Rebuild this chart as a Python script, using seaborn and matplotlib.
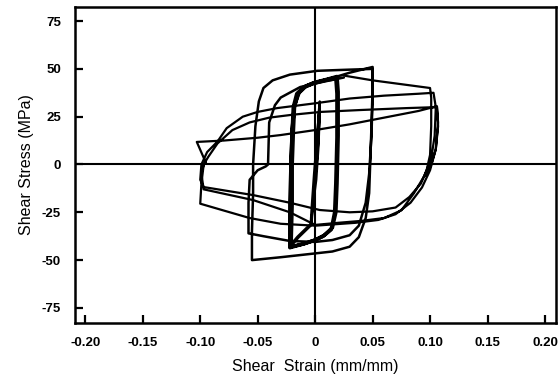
import numpy as np
import matplotlib
matplotlib.use("Agg")
import matplotlib.pyplot as plt
import seaborn as sns

# ---- data (strain mm/mm, stress MPa) ----
loopA_strain = [0.000, 0.002, 0.003, 0.004, 0.004, 0.003, 0.001, -0.002, -0.003, -0.004,
                -0.003, -0.001, 0.001, 0.003, 0.004, 0.004, 0.002, -0.001, -0.003, -0.003]
loopA_stress = [0, 15, 27, 33, 28, 10, -8, -22, -30, -32,
                -22, -5, 10, 25, 32, 25, 5, -15, -28, -31]

loopB_strain = [-0.003, -0.015, -0.022,
                -0.022, -0.021, -0.020, -0.018, -0.014, -0.008, 0.000, 0.010, 0.019,
                0.020, 0.020, 0.019, 0.018, 0.015, 0.008, 0.000, -0.010, -0.022,
                -0.021, -0.021, -0.020, -0.019, -0.016, -0.010, -0.002, 0.008, 0.018,
                0.019, 0.019, 0.018, 0.017, 0.014, 0.007, 0.000, -0.010, -0.021,
                -0.020, -0.020, -0.019, -0.018, -0.015, -0.009, -0.001, 0.009, 0.019]
loopB_stress = [-31, -38, -43,
                -20, 0, 18, 31, 37.5, 41, 43, 44.5, 46,
                38, 15, -10, -25, -33, -37, -39.5, -41.5, -43.5,
                -20, 0, 17, 30, 37, 40.5, 42.5, 44, 45.5,
                37, 14, -10, -25, -34, -37.5, -39.5, -41.5, -43,
                -20, 0, 17, 30, 37, 40.5, 42.5, 44, 45]

loopC_strain = [0.019, 0.030, 0.040, 0.050,
                0.050, 0.049, 0.048, 0.047, 0.044, 0.038, 0.030, 0.015, 0.000, -0.030, -0.055,
                -0.055, -0.054, -0.054, -0.052, -0.049, -0.045, -0.037, -0.022, 0.002, 0.025, 0.050,
                0.050, 0.049, 0.047, 0.044, 0.038, 0.030, 0.015, 0.000, -0.022, -0.045, -0.058,
                -0.058, -0.057, -0.050, -0.043, -0.041, -0.040, -0.035, -0.030, -0.013, 0.005, 0.025]
loopC_stress = [46, 48, 49.5, 51,
                40, 20, 2, -15, -28, -38, -43, -45.5, -46.5, -48.5, -50,
                -35, -15, 0, 20, 33, 40, 44, 47, 49, 49.5, 50,
                35, 15, -5, -20, -32, -37, -39.5, -40.5, -40, -37.5, -36,
                -20, -8, -3, -1, 0, 22, 31, 35, 40.5, 43, 45.5]

loopD_strain = [0.025, 0.050, 0.075, 0.100,
                0.101, 0.101, 0.100, 0.097, 0.092, 0.082, 0.070, 0.050, 0.030, 0.004, -0.022,
                -0.054, -0.097, -0.100, -0.099,
                -0.094, -0.085, -0.077, -0.063, -0.050, -0.033, 0.000, 0.030, 0.060, 0.090, 0.103,
                0.105, 0.104, 0.101, 0.095, 0.086, 0.075, 0.060, 0.040, 0.020, 0.000, -0.022,
                -0.054, -0.097, -0.099,
                -0.097, -0.093, -0.085, -0.072, -0.057, -0.040, -0.020, 0.005, 0.040, 0.080, 0.106,
                0.107, 0.105, 0.100, 0.093, 0.083, 0.070, 0.055, 0.035, 0.000, -0.030,
                -0.057, -0.080, -0.100, -0.099, -0.097, -0.095, -0.103,
                -0.080, -0.050, -0.030, 0.000, 0.030, 0.060, 0.090, 0.106,
                0.107, 0.105, 0.101, 0.096]
loopD_stress = [46.5, 44, 42, 40,
                35, 20, 5, -3, -10, -17, -22.5, -24.5, -25, -23.8, -20,
                -16, -11.8, -8, 0,
                6.5, 12, 19, 25, 27.5, 29.5, 32, 34.5, 36, 37, 37.5,
                30, 15, 3, -6, -15, -24, -28, -29.5, -30.5, -31.6, -25,
                -18.6, -13, -5,
                0, 4, 11, 18, 22, 24.5, 26, 27.5, 28.5, 29.5, 30,
                22, 8, -3, -12, -20, -26, -29, -30.5, -32, -31,
                -28, -24, -20.5, -10, 0, 0.8, 11.8,
                12.5, 14, 15.4, 18, 21, 24.5, 28, 30.5,
                20, 8, 0, -6]

xticks = [-0.20, -0.15, -0.10, -0.05, 0.0, 0.05, 0.10, 0.15, 0.20]
xtick_labels = ["-0.20", "-0.15", "-0.10", "-0.05", "0", "0.05", "0.10", "0.15", "0.20"]
yticks = [-75, -50, -25, 0, 25, 50, 75]
ytick_labels = ["-75", "-50", "-25", "0", "25", "50", "75"]

sns.set_theme(style="ticks")
plt.rcParams["font.family"] = ["Liberation Sans", "DejaVu Sans"]

fig = plt.figure(figsize=(5.58, 3.85), dpi=100)
ax = fig.add_axes([0.1344, 0.161, 0.862, 0.821])

ax.axhline(0, color="black", lw=1.5, zorder=1)
ax.axvline(0, color="black", lw=1.5, zorder=1)

sns.lineplot(x=np.array(loopD_strain), y=np.array(loopD_stress), sort=False, estimator=None,
             color="black", linewidth=1.6, ax=ax)
sns.lineplot(x=np.array(loopC_strain), y=np.array(loopC_stress), sort=False, estimator=None,
             color="black", linewidth=1.8, ax=ax)
sns.lineplot(x=np.array(loopB_strain), y=np.array(loopB_stress), sort=False, estimator=None,
             color="black", linewidth=2.6, ax=ax)
sns.lineplot(x=np.array(loopA_strain), y=np.array(loopA_stress), sort=False, estimator=None,
             color="black", linewidth=1.6, ax=ax)

ax.set_xlim(-0.209, 0.2096)
ax.set_ylim(-82.9, 82.4)
ax.set_xticks(xticks)
ax.set_xticklabels(xtick_labels)
ax.set_yticks(yticks)
ax.set_yticklabels(ytick_labels)
ax.tick_params(direction="in", length=6, width=1.6, colors="black", labelsize=9.5, pad=10)
for lab in ax.get_xticklabels() + ax.get_yticklabels():
    lab.set_fontweight("bold")

for s in ax.spines.values():
    s.set_linewidth(1.8)
    s.set_color("black")

ax.set_xlabel("Shear  Strain (mm/mm)", fontsize=11.5, labelpad=7, color="black")
ax.set_ylabel("Shear Stress (MPa)", fontsize=11.5, labelpad=6, color="black")

fig.savefig("out.png", dpi=100)
